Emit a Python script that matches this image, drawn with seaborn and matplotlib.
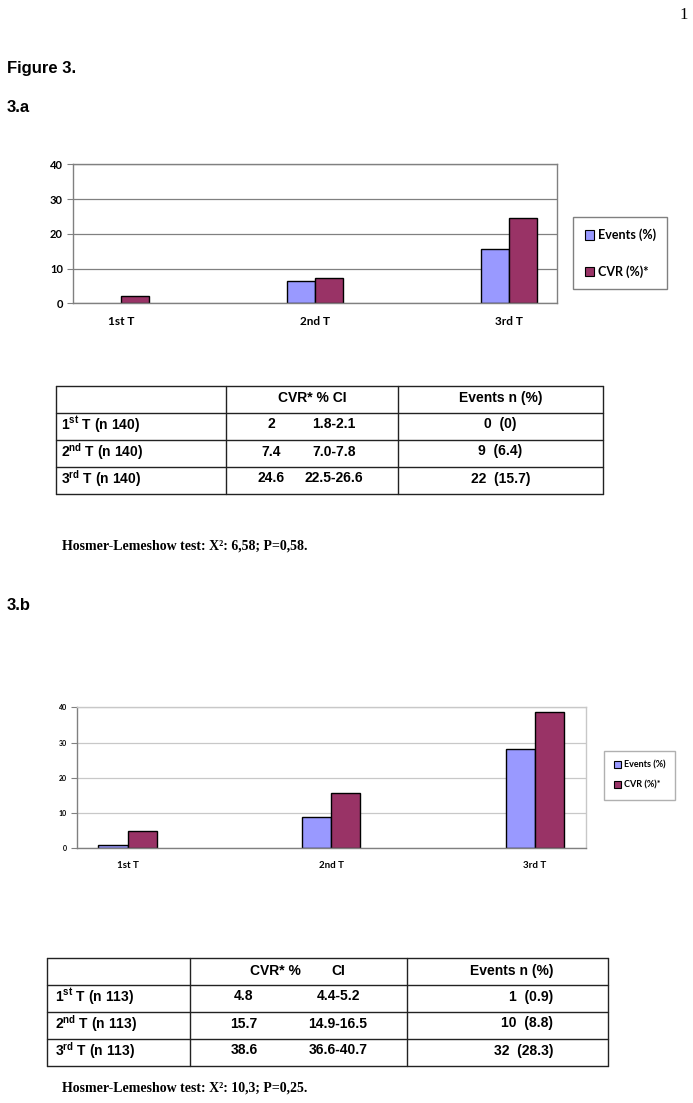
import numpy as np
import pandas as pd
import matplotlib
matplotlib.use("Agg")
import matplotlib.pyplot as plt
import seaborn as sns

# data
tertiles = ["1st T", "2nd T", "3rd T"]
series = ["Events (%)", "CVR (%)*"]
events_a = [0, 6.4, 15.7]
cvr_a = [2, 7.4, 24.6]
events_b = [0.9, 8.8, 28.3]
cvr_b = [4.8, 15.7, 38.6]

ci_a = ["1.8-2.1", "7.0-7.8", "22.5-26.6"]
events_n_a = [0, 9, 22]
ci_b = ["4.4-5.2", "14.9-16.5", "36.6-40.7"]
events_n_b = [1, 10, 32]
row_n_a = 140
row_n_b = 113
sups = ["st", "nd", "rd"]

hl_a = "Hosmer-Lemeshow test: X\u00b2: 6,58; P=0,58."
hl_b = "Hosmer-Lemeshow test: X\u00b2: 10,3; P=0,25."

# excel chart had empty slots between the tertiles
slots = ["1st T", "gap1", "2nd T", "gap2", "3rd T"]
colors = ["#9999FF", "#993366"]

W, H = 693, 1103

sns.set_theme(style="white")
plt.rcParams["font.family"] = ["Liberation Sans", "DejaVu Sans"]
plt.rcParams["mathtext.fontset"] = "custom"
plt.rcParams["mathtext.rm"] = "Liberation Sans:bold"
plt.rcParams["text.color"] = "black"
plt.rcParams["xtick.labelcolor"] = "black"
plt.rcParams["ytick.labelcolor"] = "black"


def fx(x):
    return x / W


def fy(y):
    return 1 - y / H


def make_df(events, cvr):
    rows = []
    for t, e, c in zip(tertiles, events, cvr):
        rows.append({"tertile": t, "series": series[0], "value": e})
        rows.append({"tertile": t, "series": series[1], "value": c})
    return pd.DataFrame(rows)


def bar_chart(fig, box, events, cvr, grid_col, frame_col, tick_fs, cat_fs,
              leg_center, leg_fs, leg_space, leg_edge, leg_pad):
    x0, y0, x1, y1 = box
    ax = fig.add_axes([fx(x0), fy(y1), fx(x1) - fx(x0), fy(y0) - fy(y1)])
    df = make_df(events, cvr)
    sns.barplot(data=df, x="tertile", y="value", hue="series", order=slots,
                hue_order=series, palette=colors, saturation=1, width=0.572,
                edgecolor="black", linewidth=1, errorbar=None, ax=ax)
    for p in ax.patches:
        if p.get_height() == 0:
            p.set_linewidth(0)
    ax.set_ylim(0, 40)
    ax.set_yticks([0, 10, 20, 30, 40])
    ax.set_xlim(-0.5, 4.5)
    ax.set_xticks(range(5))
    ax.set_xticklabels(["1st T", "", "2nd T", "", "3rd T"],
                       fontsize=cat_fs, fontweight="bold", family="Lato")
    ax.set_xticks(np.arange(-0.5, 5, 1), minor=True)
    ax.tick_params(axis="x", which="major", length=0, pad=9)
    ax.tick_params(axis="x", which="minor", length=4, width=0.8,
                   color="#808080", direction="out")
    ax.tick_params(axis="y", length=4, width=0.8, color="#808080",
                   direction="out", pad=3, left=True)
    for lab in ax.get_yticklabels():
        lab.set_fontsize(tick_fs)
        lab.set_fontweight("bold")
        lab.set_family("Lato")
    ax.set_xlabel("")
    ax.set_ylabel("")
    ax.yaxis.grid(True, color=grid_col, linewidth=0.9)
    ax.set_axisbelow(True)
    for side in ["left", "bottom"]:
        ax.spines[side].set_color("#808080")
        ax.spines[side].set_linewidth(1)
    for side in ["top", "right"]:
        ax.spines[side].set_color(frame_col)
        ax.spines[side].set_linewidth(1)
    handles, labels = ax.get_legend_handles_labels()
    leg = ax.legend(handles, labels, loc="center",
                    bbox_to_anchor=(fx(leg_center[0]), fy(leg_center[1])),
                    bbox_transform=fig.transFigure, fancybox=False, framealpha=1,
                    edgecolor=leg_edge, handlelength=0.75, handleheight=0.75,
                    handletextpad=0.3, labelspacing=leg_space, borderpad=leg_pad,
                    prop={"family": "Lato", "weight": "bold", "size": leg_fs})
    for h in leg.legend_handles:
        h.set_edgecolor("black")
        h.set_linewidth(0.8)
    return ax


def draw_table(fig, xs, ys, header, rows, lw=1.0):
    for y in ys:
        fig.add_artist(plt.Line2D([fx(xs[0]), fx(xs[-1])], [fy(y), fy(y)],
                                  transform=fig.transFigure, color="#222222", lw=lw))
    for x in xs:
        fig.add_artist(plt.Line2D([fx(x), fx(x)], [fy(ys[0]), fy(ys[-1])],
                                  transform=fig.transFigure, color="#222222", lw=lw))
    for (x, y, s, ha) in header + rows:
        fig.text(fx(x), fy(y), s, ha=ha, va="center", fontsize=10,
                 fontweight="bold", family="Liberation Sans")


fig = plt.figure(figsize=(W / 100, H / 100), dpi=100)

# page heading
fig.text(fx(684), fy(15), "1", fontsize=12, family="Liberation Serif",
         ha="center", va="center")
fig.text(fx(7), fy(68), "Figure 3.", fontsize=12, fontweight="bold",
         family="Liberation Sans", va="center")
fig.text(fx(7), fy(108), "3.a", fontsize=12, fontweight="bold",
         family="Liberation Sans", va="center")
fig.text(fx(7), fy(606), "3.b", fontsize=12, fontweight="bold",
         family="Liberation Sans", va="center")

# 3.a chart
bar_chart(fig, (72.7, 164.3, 557.3, 303.3), events_a, cvr_a,
          grid_col="#808080", frame_col="#808080", tick_fs=8, cat_fs=8.5,
          leg_center=(620.3, 253.3), leg_fs=9, leg_space=1.9,
          leg_edge="#808080", leg_pad=0.9)

# 3.b chart
bar_chart(fig, (76.7, 707.3, 586.0, 848.3), events_b, cvr_b,
          grid_col="#c8c8c8", frame_col="#c8c8c8", tick_fs=5, cat_fs=7,
          leg_center=(639.6, 775.3), leg_fs=6.5, leg_space=1.2,
          leg_edge="#b0b0b0", leg_pad=1.1)

# 3.a table
xs_a = [55.7, 225.7, 398, 603]
ys_a = [386, 413, 440, 467, 494]
header_a = [(312, 398, "CVR* % CI", "center"),
            (500.5, 398, "Events n (%)", "center")]
rows_a = []
for i in range(3):
    yc = (ys_a[i + 1] + ys_a[i + 2]) / 2 - 2
    rows_a.append((61, yc, r"%d$^{\mathrm{%s}}$ T (n %d)" % (i + 1, sups[i], row_n_a), "left"))
    rows_a.append((271, yc, "%g" % cvr_a[i], "center"))
    rows_a.append((334, yc, ci_a[i], "center"))
    rows_a.append((500.5, yc, "%d  (%g)" % (events_n_a[i], events_a[i]), "center"))
draw_table(fig, xs_a, ys_a, header_a, rows_a)
fig.text(fx(62), fy(546), hl_a, fontsize=10, fontweight="bold",
         family="Liberation Serif", va="center")

# 3.b table
xs_b = [47.3, 190, 406.7, 608]
ys_b = [958, 985, 1012, 1039, 1066]
header_b = [(275, 971, "CVR* %", "center"),
            (338, 971, "CI", "center"),
            (553, 971, "Events n (%)", "right")]
rows_b = []
for i in range(3):
    yc = (ys_b[i + 1] + ys_b[i + 2]) / 2 - 2
    rows_b.append((55, yc, r"%d$^{\mathrm{%s}}$ T (n %d)" % (i + 1, sups[i], row_n_b), "left"))
    rows_b.append((244, yc, "%g" % cvr_b[i], "center"))
    rows_b.append((338, yc, ci_b[i], "center"))
    rows_b.append((553, yc, "%d  (%g)" % (events_n_b[i], events_b[i]), "right"))
draw_table(fig, xs_b, ys_b, header_b, rows_b)
fig.text(fx(62), fy(1088), hl_b, fontsize=10, fontweight="bold",
         family="Liberation Serif", va="center")

fig.savefig("out.png", dpi=100)
